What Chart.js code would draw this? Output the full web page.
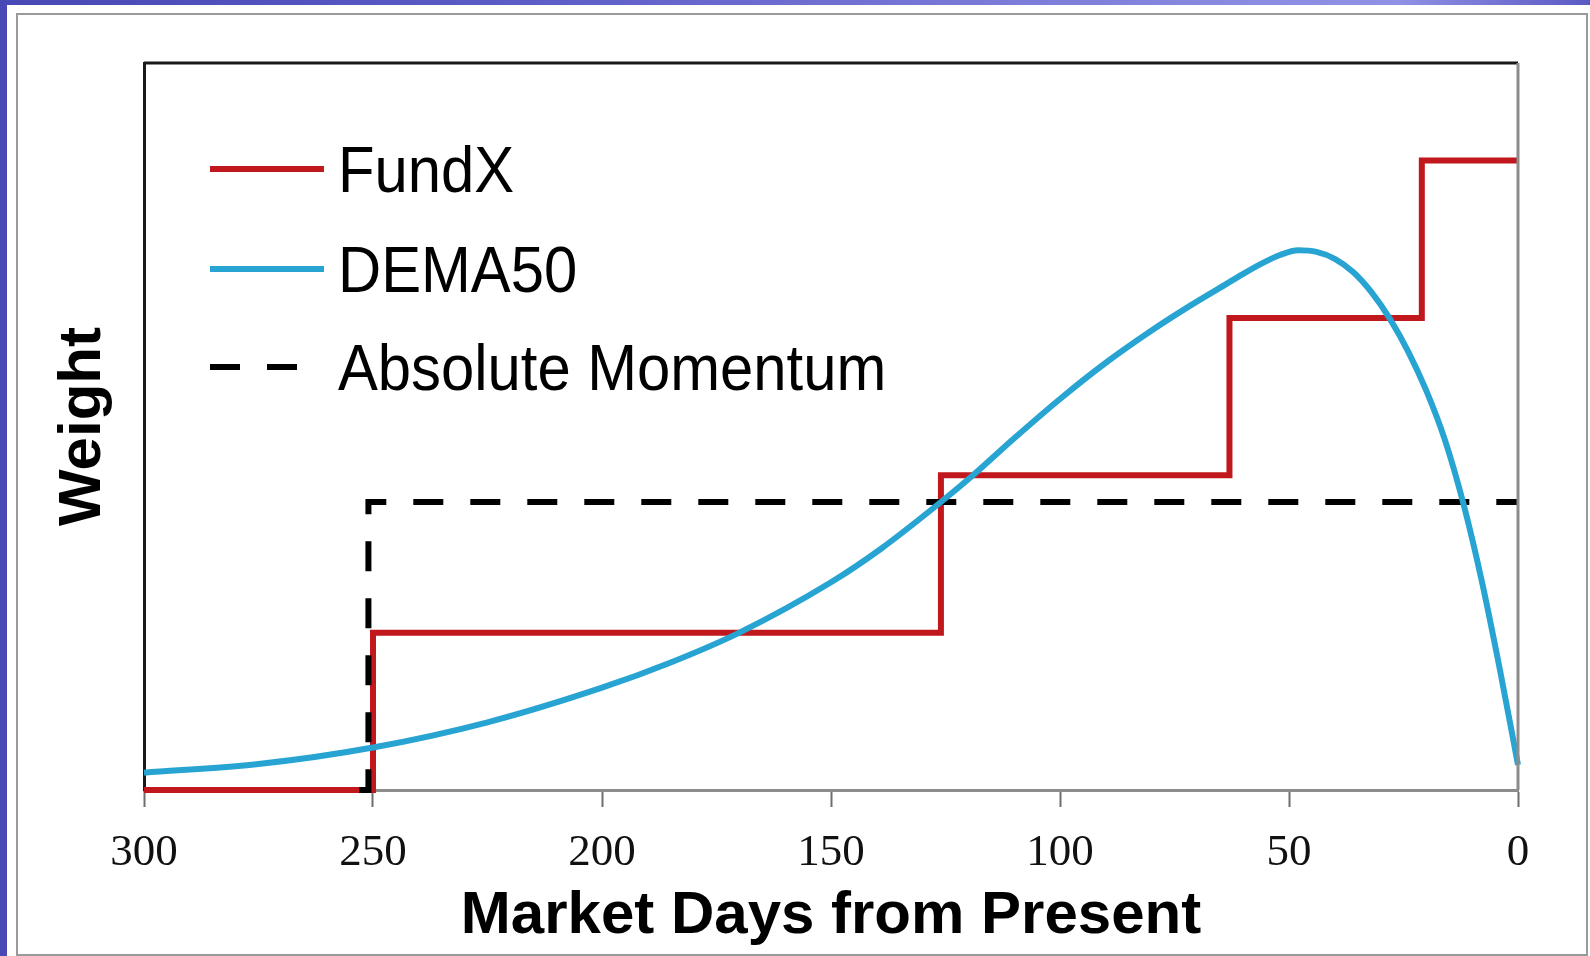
<!DOCTYPE html>
<html>
<head>
<meta charset="utf-8">
<title>FundX vs DEMA50 vs Absolute Momentum weights</title>
<script src="https://cdn.jsdelivr.net/npm/chart.js@4.4.1/dist/chart.umd.min.js"></script>
<style>
    html, body {
        margin: 0;
        padding: 0;
    }
    body {
        width: 1590px;
        height: 956px;
        position: relative;
        overflow: hidden;
        background: linear-gradient(to right, #4848b6 0%, #5e5ec8 35%, #8c8ce2 80%, #9090e4 88%, #5a5ac4 100%);
    }
    .sheet {
        position: absolute;
        left: 7px;
        top: 5px;
        right: 0;
        bottom: 0;
        background: #fff;
    }
    .frame {
        position: absolute;
        left: 16px;
        top: 13px;
        width: 1568px;
        height: 939px;
        border: 2px solid #9a9a9a;
        background: #fff;
    }
    #chart {
        position: absolute;
        left: 0;
        top: 0;
    }
</style>
</head>
<body>
<div class="sheet"></div>
<div class="frame"></div>
<canvas id="chart" width="1590" height="956"></canvas>

<script>
// Data (x = market days from present, y = relative weight)
const xTicks = [300, 250, 200, 150, 100, 50, 0];

const fundxDays    = [300, 250, 250, 126, 126, 63, 63, 21, 21, 0];
const fundxWeights = [0,   0,   1,   1,   2,   2,  3,  3,  4,  4];

const demaDays    = [300, 275, 250, 225, 200, 185, 170, 150, 139, 126, 119, 110, 100, 90, 80, 72, 64, 60, 56, 52, 48, 44, 40, 36, 32, 28, 24, 20, 16, 12, 8, 4, 0];
const demaWeights = [0.11, 0.165, 0.27, 0.43, 0.65, 0.81, 1.00, 1.32, 1.535, 1.83, 2.00, 2.235, 2.485, 2.715, 2.92, 3.07, 3.21, 3.28, 3.345, 3.40, 3.43, 3.42, 3.376, 3.292, 3.164, 2.996, 2.788, 2.536, 2.228, 1.828, 1.34, 0.772, 0.16];

const momentumDays    = [253, 251, 251, 0];
const momentumWeights = [0,   0,   1.83, 1.83];

const seriesNames = ['FundX', 'DEMA50', 'Absolute Momentum'];

const RED = '#c0181d';
const CYAN = '#28a4d3';
const BLACK = '#000000';
const DASH = [30, 27];

function toPoints(xs, ys) {
    return xs.map((x, i) => ({ x: x, y: ys[i] }));
}

// Top / right border of the plot area + in-plot legend
const framePlugin = {
    id: 'plotFrame',
    afterDatasetsDraw(chart) {
        const { ctx, chartArea: a } = chart;
        ctx.save();
        ctx.lineCap = 'butt';
        ctx.lineWidth = 3;
        ctx.strokeStyle = '#1a1a1a';
        ctx.beginPath();
        ctx.moveTo(a.left, a.top);
        ctx.lineTo(a.right, a.top);
        ctx.stroke();
        ctx.strokeStyle = '#8c8c8c';
        ctx.beginPath();
        ctx.moveTo(a.right, a.top);
        ctx.lineTo(a.right, a.bottom);
        ctx.stroke();
        ctx.restore();
    },
    afterDraw(chart) {
        const { ctx } = chart;
        const rows = [
            { y: 169, color: RED, dash: [] },
            { y: 269, color: CYAN, dash: [] },
            { y: 367, color: BLACK, dash: DASH }
        ];
        ctx.save();
        rows.forEach((r, i) => {
            ctx.lineWidth = 6;
            ctx.strokeStyle = r.color;
            ctx.setLineDash(r.dash);
            ctx.beginPath();
            ctx.moveTo(210, r.y);
            ctx.lineTo(i === 2 ? 297 : 324, r.y);
            ctx.stroke();

            ctx.setLineDash([]);
            ctx.fillStyle = '#000';
            ctx.font = '61px "Liberation Sans", Arial, sans-serif';
            ctx.textBaseline = 'alphabetic';
            ctx.textAlign = 'left';
            ctx.save();
            ctx.translate(338, r.y + 23);
            ctx.scale(0.98, 1.07);
            ctx.fillText(seriesNames[i], 0, 0);
            ctx.restore();
        });
        ctx.restore();
    }
};

let chart = null;

function initChart() {
    const ctx = document.getElementById('chart').getContext('2d');

    chart = new Chart(ctx, {
        type: 'scatter',
        data: {
            datasets: [
                {
                    label: seriesNames[0],
                    data: toPoints(fundxDays, fundxWeights),
                    showLine: true,
                    borderColor: RED,
                    borderWidth: 6,
                    pointRadius: 0,
                    tension: 0,
                    order: 2,
                    clip: false
                },
                {
                    label: seriesNames[1],
                    data: toPoints(demaDays, demaWeights),
                    showLine: true,
                    borderColor: CYAN,
                    borderWidth: 6,
                    pointRadius: 0,
                    cubicInterpolationMode: 'monotone',
                    order: 0,
                    clip: false
                },
                {
                    label: seriesNames[2],
                    data: toPoints(momentumDays, momentumWeights),
                    showLine: true,
                    borderColor: BLACK,
                    borderWidth: 6,
                    borderDash: DASH,
                    pointRadius: 0,
                    tension: 0,
                    order: 1,
                    clip: false
                }
            ]
        },
        options: {
            responsive: false,
            animation: false,
            devicePixelRatio: 1,
            layout: {
                padding: { top: 63, right: 72, bottom: 0, left: 0 }
            },
            plugins: {
                legend: { display: false },
                tooltip: { enabled: false }
            },
            scales: {
                x: {
                    type: 'linear',
                    min: 0,
                    max: 300,
                    reverse: true,
                    afterBuildTicks: (scale) => {
                        scale.ticks = xTicks.map(v => ({ value: v }));
                    },
                    afterFit: (scale) => { scale.height = 166; },
                    grid: {
                        display: true,
                        drawOnChartArea: false,
                        drawTicks: true,
                        tickLength: 17,
                        tickColor: '#6e6e6e',
                        tickWidth: 2
                    },
                    border: { display: true, color: '#8c8c8c', width: 3 },
                    ticks: {
                        color: '#111',
                        padding: 19,
                        maxRotation: 0,
                        font: { family: '"Liberation Serif", "Times New Roman", serif', size: 45 }
                    },
                    title: {
                        display: true,
                        text: 'Market Days from Present',
                        color: '#000',
                        padding: { top: 0, bottom: 4 },
                        font: { family: '"Liberation Sans", Arial, sans-serif', size: 60, weight: 'bold' }
                    }
                },
                y: {
                    min: 0,
                    max: 4.62,
                    afterFit: (scale) => { scale.width = 144; },
                    grid: { display: false },
                    border: { display: true, color: '#1a1a1a', width: 3 },
                    ticks: { display: false },
                    title: {
                        display: true,
                        text: 'Weight',
                        color: '#000',
                        padding: { top: 47, bottom: 0 },
                        font: { family: '"Liberation Sans", Arial, sans-serif', size: 60, weight: 'bold' }
                    }
                }
            }
        },
        plugins: [framePlugin]
    });
}

window.onload = () => {
    initChart();
};
</script>
</body>
</html>
